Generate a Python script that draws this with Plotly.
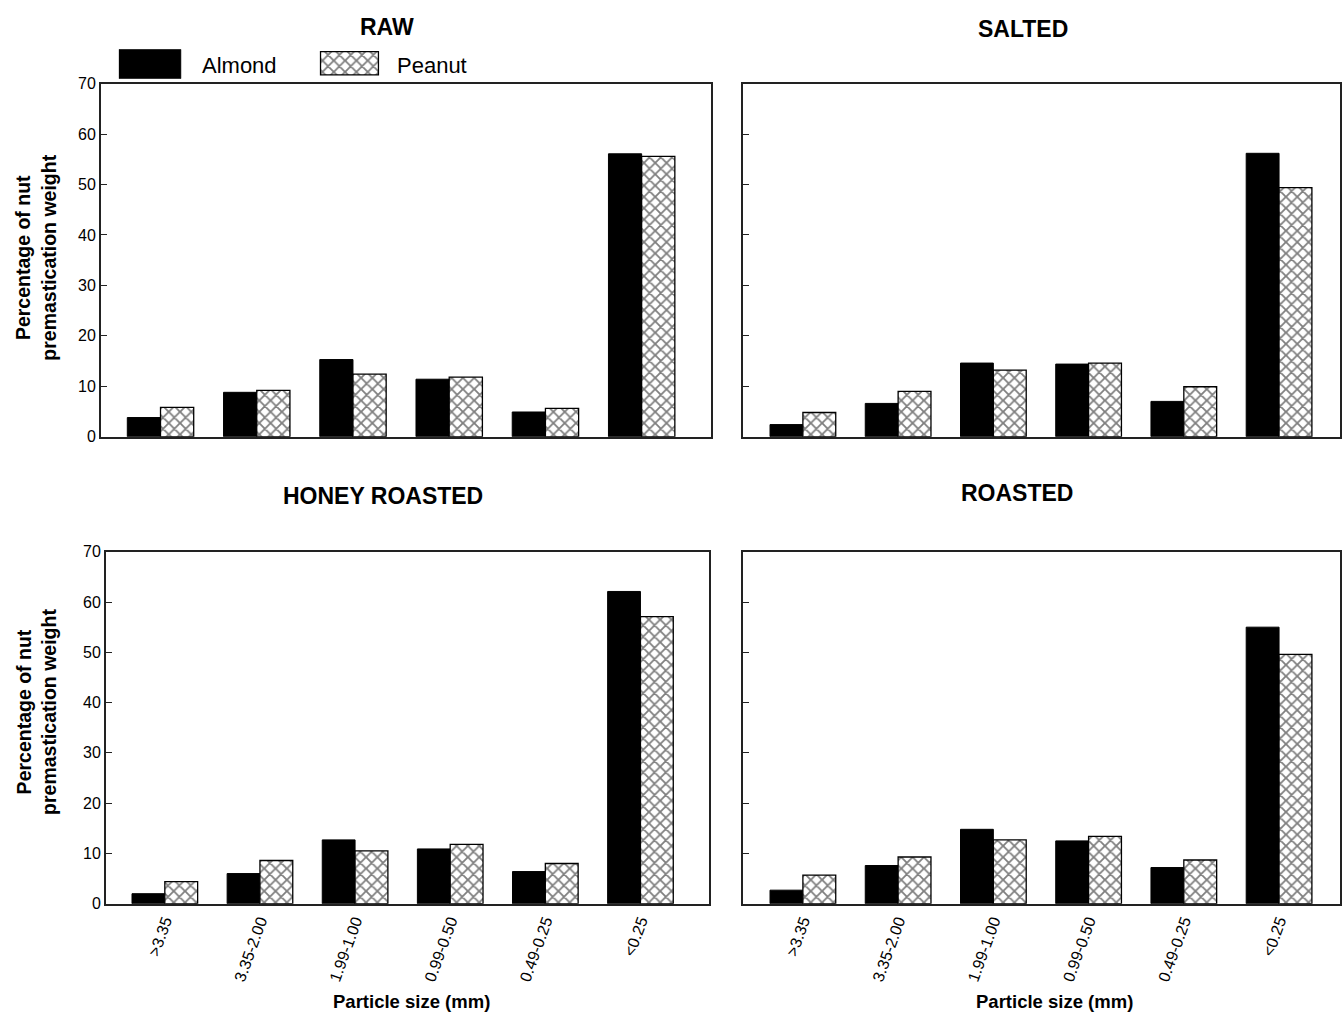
import plotly.graph_objects as go

categories = [">3.35", "3.35-2.00", "1.99-1.00", "0.99-0.50", "0.49-0.25", "<0.25"]
raw_almond = [3.8, 8.8, 15.3, 11.4, 4.9, 56.1]
raw_peanut = [5.8, 9.2, 12.4, 11.8, 5.6, 55.6]
salted_almond = [2.4, 6.6, 14.6, 14.4, 7.0, 56.2]
salted_peanut = [4.8, 9.0, 13.2, 14.6, 9.9, 49.4]
honey_almond = [2.0, 6.0, 12.7, 10.9, 6.4, 62.1]
honey_peanut = [4.4, 8.6, 10.5, 11.8, 8.0, 57.1]
roasted_almond = [2.7, 7.6, 14.8, 12.5, 7.2, 55.0]
roasted_peanut = [5.7, 9.3, 12.7, 13.4, 8.7, 49.6]
series_names = ["Almond", "Peanut"]
panel_titles = ["RAW", "SALTED", "HONEY ROASTED", "ROASTED"]
y_ticks = [0, 10, 20, 30, 40, 50, 60, 70]

W, H = 1342, 1015
FONT = "Liberation Sans, Arial, sans-serif"


def px(x):
    return x / W


def py(y):
    return 1 - y / H


panels = [
    (raw_almond, raw_peanut, "x", "y", (101, 712), (77, 436)),
    (salted_almond, salted_peanut, "x2", "y2", (744, 1342), (77, 436)),
    (honey_almond, honey_peanut, "x3", "y3", (106, 710), (553, 911)),
    (roasted_almond, roasted_peanut, "x4", "y4", (744, 1342), (553, 911)),
]

fig = go.Figure()

almond_style = dict(marker=dict(color="black", line=dict(color="black", width=1)))
peanut_style = dict(marker=dict(color="white", line=dict(color="black", width=1.3),
                                pattern=dict(shape="x", fgcolor="black", bgcolor="white",
                                             size=8, solidity=0.4)))

for i, (alm, pea, xa, ya, (x0, x1), (y0, y1)) in enumerate(panels):
    fig.add_trace(go.Bar(x=categories, y=alm, name=series_names[0], xaxis=xa, yaxis=ya,
                         showlegend=False, offsetgroup="a", **almond_style))
    fig.add_trace(go.Bar(x=categories, y=pea, name=series_names[1], xaxis=xa, yaxis=ya,
                         showlegend=False, offsetgroup="p", **peanut_style))

# legend swatches drawn on a hidden axis
fig.add_trace(go.Bar(x=[31], y=[1], width=[62], xaxis="x5", yaxis="y5", showlegend=False,
                     hoverinfo="skip", **almond_style))
fig.add_trace(go.Bar(x=[231], y=[0.79], base=[0.13], width=[58], xaxis="x5", yaxis="y5",
                     showlegend=False, hoverinfo="skip", **peanut_style))

layout = dict(
    width=W, height=H,
    margin=dict(l=0, r=0, t=0, b=0),
    paper_bgcolor="white", plot_bgcolor="white",
    barmode="group", bargap=0.31, bargroupgap=0.0,
    font=dict(family=FONT, color="black"),
    showlegend=False,
)

for i, (alm, pea, xa, ya, (x0, x1), (y0, y1)) in enumerate(panels):
    n = "" if i == 0 else str(i + 1)
    left = i in (0, 2)
    bottom = i in (2, 3)
    xr = [-0.62, 5.72] if left else [-0.63, 5.64]
    layout["xaxis" + n] = dict(
        domain=[px(x0), min(px(x1), 1.0)], anchor="y" + n,
        type="category", categoryorder="array", categoryarray=categories,
        range=xr, showline=True, linecolor="#222", linewidth=1.5, mirror=True,
        ticks="", showticklabels=bottom, tickangle=-70,
        tickfont=dict(family=FONT, size=16, color="black"),
        showgrid=False, zeroline=False, fixedrange=True,
    )
    layout["yaxis" + n] = dict(
        domain=[py(y1), py(y0)], anchor="x" + n,
        range=[0, 70], tickvals=y_ticks, showline=True, linecolor="#222", linewidth=1.5,
        mirror=True, ticks="inside", ticklen=6, tickcolor="#222", tickwidth=1,
        showticklabels=left, tickfont=dict(family=FONT, size=16, color="black"),
        showgrid=False, zeroline=False, fixedrange=True,
    )

layout["xaxis5"] = dict(domain=[px(119), px(381)], anchor="y5", range=[0, 262], visible=False,
                        fixedrange=True)
layout["yaxis5"] = dict(domain=[py(72), py(42)], anchor="x5", range=[0, 1], visible=False,
                        fixedrange=True)

annotations = []
title_pos = [(388, 19), (1025, 21), (384, 496), (1019, 493)]
for t, (tx, ty) in zip(panel_titles, title_pos):
    annotations.append(dict(text="<b>" + t + "</b>", x=px(tx), y=py(ty), xref="paper", yref="paper",
                            showarrow=False, xanchor="center", yanchor="middle",
                            font=dict(family=FONT, size=23, color="black")))
for cy in (254, 716):
    annotations.append(dict(text="<b>Percentage of nut<br>premastication weight</b>",
                            x=px(36), y=py(cy), xref="paper", yref="paper", showarrow=False,
                            textangle=-90, xanchor="center", yanchor="middle",
                            font=dict(family=FONT, size=19.5, color="black")))
for cx in (412, 1056):
    annotations.append(dict(text="<b>Particle size (mm)</b>", x=px(cx), y=py(1010),
                            xref="paper", yref="paper", showarrow=False,
                            xanchor="center", yanchor="middle",
                            font=dict(family=FONT, size=18.5, color="black")))
annotations.append(dict(text=series_names[0], x=px(200), y=py(58), xref="paper", yref="paper",
                        showarrow=False, xanchor="left", yanchor="middle",
                        font=dict(family=FONT, size=22, color="black")))
annotations.append(dict(text=series_names[1], x=px(396), y=py(58), xref="paper", yref="paper",
                        showarrow=False, xanchor="left", yanchor="middle",
                        font=dict(family=FONT, size=22, color="black")))
layout["annotations"] = annotations

fig.update_layout(**layout)
fig.write_html("out.html", config={"displayModeBar": False},
               post_script="document.body.style.margin='0px';")
